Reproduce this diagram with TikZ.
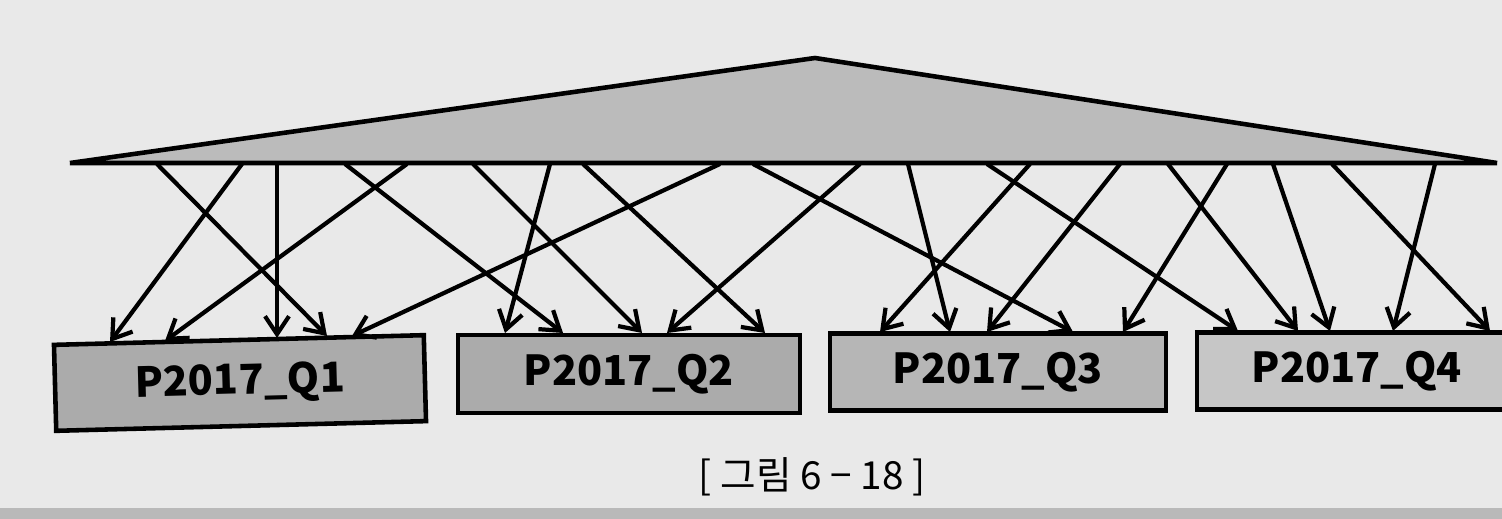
\documentclass[tikz,border=0pt]{standalone}
\usepackage{fontspec}
\setmainfont{Noto Sans CJK KR}
\usetikzlibrary{arrows.meta}
\definecolor{paper}{HTML}{E9E9E9}
\definecolor{trifill}{HTML}{BBBBBB}
\definecolor{darkpart}{HTML}{ABABAB}
\definecolor{midpart}{HTML}{B6B6B6}
\definecolor{lightpart}{HTML}{C6C6C6}

\begin{document}
\begin{tikzpicture}[x=0.02cm,y=-0.02cm,
  part/.style={draw, line width=2.6pt, fill=#1, inner sep=0pt,
    font=\fontsize{23.5}{28}\selectfont\bfseries},
  hash/.style={line width=2.4pt, -{Straight Barb[length=0.36cm,width=0.48cm]}}]
\clip (0,0) rectangle (1502,519);
\fill[paper] (0,0) rectangle (1502,519);
\fill[gray!55] (0,508) rectangle (1502,519);

% partitioned table
\draw[line width=2.6pt, fill=trifill] (70,163) -- (815,58) -- (1497,163) -- cycle;

% partitions
\node[part=darkpart, minimum width=7.4cm, minimum height=1.72cm, rotate=1.5] (q1) at (240,383) {P2017\_Q1};
\node[part=darkpart, minimum width=6.84cm, minimum height=1.56cm] (q2) at (629,374) {P2017\_Q2};
\node[part=midpart, minimum width=6.72cm, minimum height=1.54cm] (q3) at (998,372) {P2017\_Q3};
\node[part=lightpart, minimum width=6.4cm, minimum height=1.54cm] (q4) at (1357,371) {P2017\_Q4};

% rows spread by hash
\foreach \a/\b/\c [count=\i] in {157/327/336, 242/110/342, 277/277/338, 345/563/333,
    407/165/341, 473/642/333, 550/505/333, 583/765/333, 720/352/336, 753/1073/332,
    860/667/333, 908/950/332, 987/1238/331, 1030/880/332, 1120/987/332, 1168/1298/331,
    1227/1123/332, 1273/1330/331, 1332/1490/331, 1435/1393/331} {
  \coordinate (s\i) at (\a,164);
  \coordinate (e\i) at (\b,\c);
  \draw[hash] (s\i) -- (e\i);
}

\node[font=\fontsize{22}{26}\selectfont] (cap) at (812,477) {[ 그림 6 − 18 ]};
\end{tikzpicture}
\end{document}
